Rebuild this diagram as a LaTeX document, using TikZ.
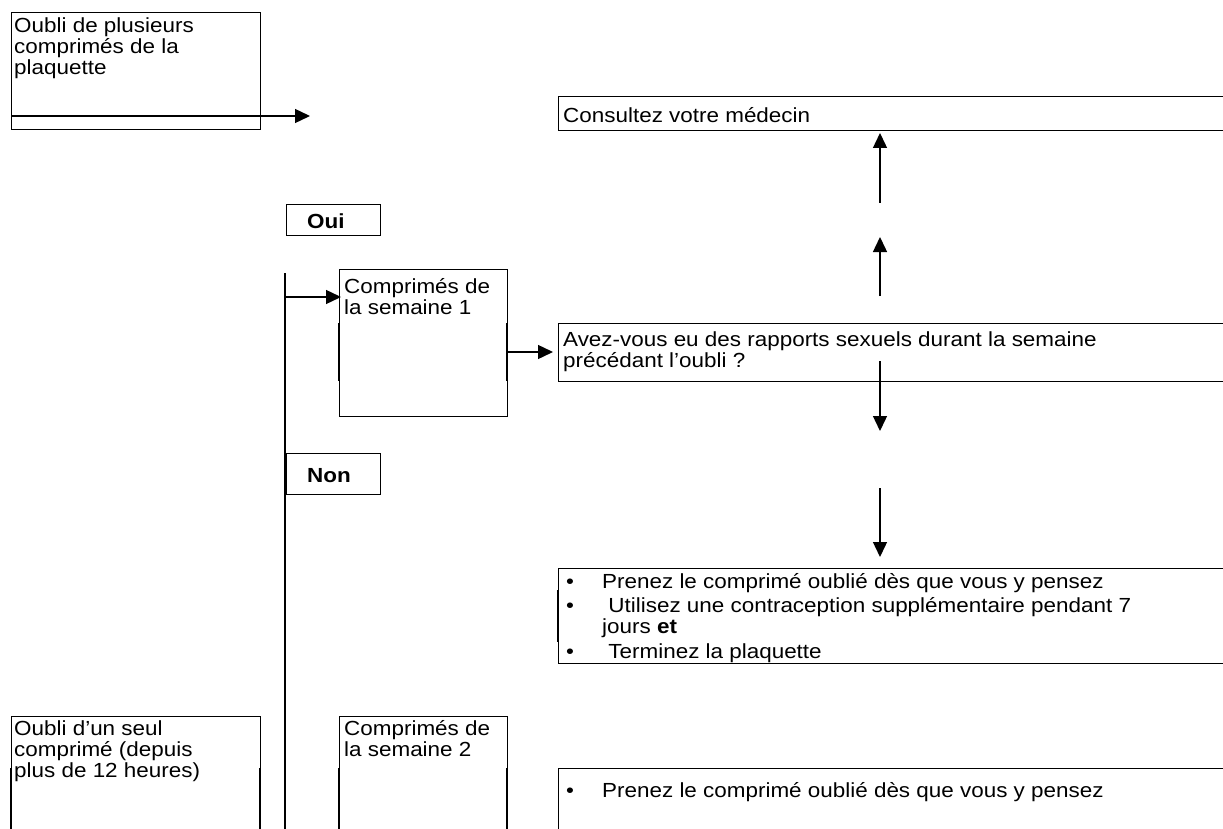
\documentclass[tikz,border=0pt]{standalone}
\usepackage{fontspec}
\usetikzlibrary{arrows.meta}
\newfontfamily\arialfont[FakeStretch=1.1]{Liberation Sans}
\newcommand{\boxfont}{\arialfont\fontsize{20.4}{20.9}\selectfont}
\newcommand{\bul}{\makebox[36pt][l]{\textbullet}}
\tikzset{
  box/.style={draw, line width=1.3pt, anchor=north west, inner sep=0pt},
  txt/.style={anchor=north west, inner sep=0pt, align=left, font=\boxfont, execute at begin node=\strut},
  arr/.style={-{Triangle[length=15pt,width=14pt]}, line width=1.4pt},
  thickseg/.style={line width=2.8pt},
}
\begin{document}
\begin{tikzpicture}[x=1pt,y=-1pt]
  \clip (0,0) rectangle (1223,829);
  % boxes
  \node[box, minimum width=249pt, minimum height=117pt] (plusieurs) at (11,12) {};
  \node[box, minimum width=700pt, minimum height=34pt] (consultez) at (558,96) {};
  \node[box, minimum width=94pt, minimum height=31pt] (oui) at (286,204) {};
  \node[box, minimum width=168pt, minimum height=147pt] (sem1) at (339,269) {};
  \node[box, minimum width=700pt, minimum height=58pt] (avez) at (558,323) {};
  \node[box, minimum width=94pt, minimum height=41pt] (non) at (286,453) {};
  \node[box, minimum width=700pt, minimum height=95pt] (bullets1) at (558,568) {};
  \node[box, minimum width=249pt, minimum height=140pt] (seul) at (11,716) {};
  \node[box, minimum width=168pt, minimum height=140pt] (sem2) at (339,716) {};
  \node[box, minimum width=700pt, minimum height=80pt] (bullets2) at (558,768) {};
  % texts
  \node[txt] (plusieurstxt) at (14,17.6) {Oubli de plusieurs\\comprimés de la\\plaquette};
  \node[txt] (consulteztxt) at (563,107.6) {Consultez votre médecin};
  \node[txt, font=\boxfont\bfseries] (ouitxt) at (307,213.6) {Oui};
  \node[txt] (sem1txt) at (344,278.6) {Comprimés de\\la semaine 1};
  \node[txt] (aveztxt) at (563,331.6) {Avez-vous eu des rapports sexuels durant la semaine\\précédant l’oubli ?};
  \node[txt, font=\boxfont\bfseries] (nontxt) at (307,467.6) {Non};
  \node[txt] (bullets1txt) at (566,573.6) {\bul Prenez le comprimé oublié dès que vous y pensez\\[3pt]
    \bul\ Utilisez une contraception supplémentaire pendant 7\\
    \hspace*{36pt}jours \textbf{et}\\[4pt]
    \bul\ Terminez la plaquette};
  \node[txt] (seultxt) at (14,720.6) {Oubli d’un seul\\comprimé (depuis\\plus de 12 heures)};
  \node[txt] (sem2txt) at (344,720.6) {Comprimés de\\la semaine 2};
  \node[txt] (bullets2txt) at (566,782.6) {\bul Prenez le comprimé oublié dès que vous y pensez};
  % free ends of the connectors
  \coordinate (plusieursout) at (11,116);
  \coordinate (plusieursend) at (310,116);
  \coordinate (up1s) at (880,203);
  \coordinate (up1e) at (880,133);
  \coordinate (up2s) at (880,296);
  \coordinate (up2e) at (880,237);
  \coordinate (down1s) at (880,361);
  \coordinate (down1e) at (880,431);
  \coordinate (down2s) at (880,488);
  \coordinate (down2e) at (880,557);
  \coordinate (branchtop) at (285,273);
  \coordinate (branchbot) at (285,840);
  \coordinate (branchoui) at (285,297);
  \coordinate (sem1in) at (341,297);
  \coordinate (sem1out) at (507,352);
  \coordinate (avezin) at (553,352);
  % connectors
  \draw[arr] (plusieursout) -- (plusieursend);
  \draw[arr] (up1s) -- (up1e);
  \draw[arr] (up2s) -- (up2e);
  \draw[arr] (down1s) -- (down1e);
  \draw[arr] (down2s) -- (down2e);
  \draw[line width=1.4pt] (branchtop) -- (branchbot);
  \draw[arr] (branchoui) -- (sem1in);
  \draw[arr] (sem1out) -- (avezin);
  % heavier pieces of the borders
  \draw[thickseg] (339,323) -- (339,381) (507,323) -- (507,381);
  \draw[thickseg] (558,590) -- (558,642);
  \foreach \x in {11,260,339,507}
    \draw[thickseg] (\x,768) -- (\x,840);
\end{tikzpicture}
\end{document}
